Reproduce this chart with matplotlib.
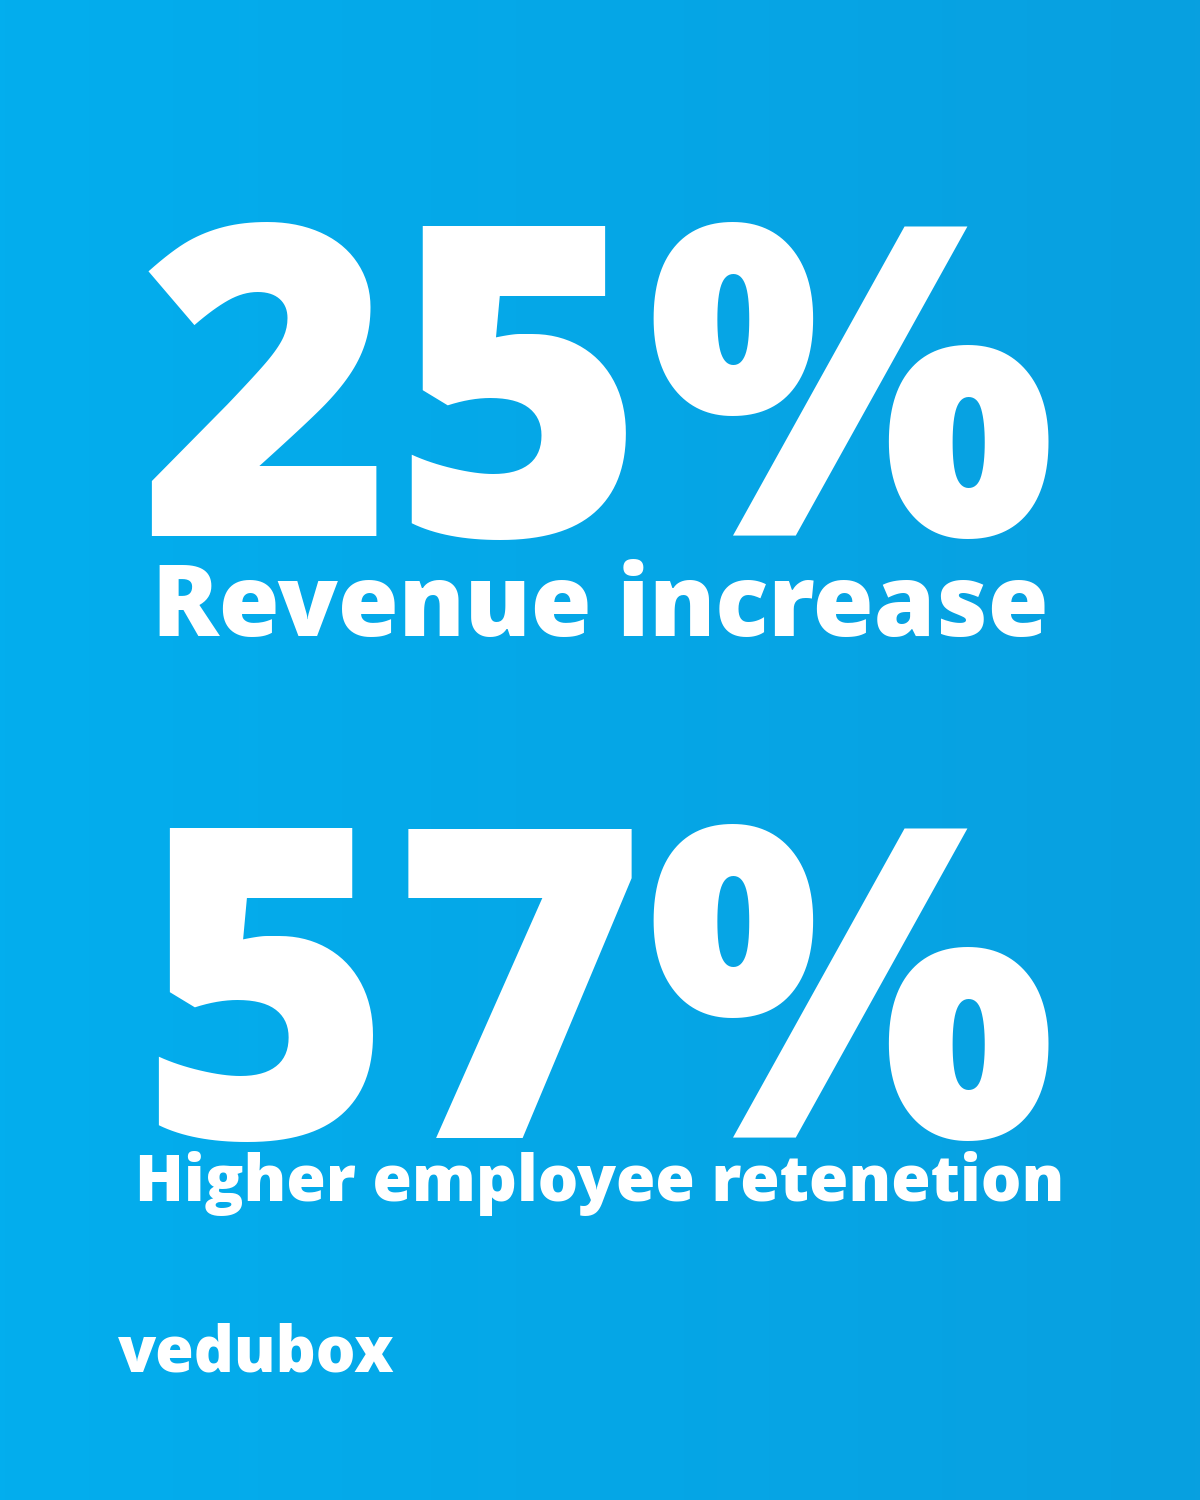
import matplotlib
matplotlib.use("Agg")
import matplotlib.pyplot as plt
import numpy as np
from matplotlib.colors import LinearSegmentedColormap

values = [25, 57]
labels = ["Revenue increase", "Higher employee retenetion"]
brand = "vedubox"

fig = plt.figure(figsize=(12, 15), dpi=100)
ax = fig.add_axes([0, 0, 1, 1])
ax.set_xlim(0, 1200); ax.set_ylim(1500, 0); ax.axis("off")
grad = np.linspace(0, 1, 256)[None, :]
cmap = LinearSegmentedColormap.from_list("bg", ["#03AEEE", "#08A0E0"])
ax.imshow(grad, extent=[0, 1200, 1500, 0], cmap=cmap, aspect="auto", zorder=0)

fam = ["Open Sans", "DejaVu Sans"]
num_y = [424, 1025]
lab_y = [610, 1183]
lab_size = [71, 46]
for v, l, ny, ly, ls in zip(values, labels, num_y, lab_y, lab_size):
    ax.text(598, ny, f"{v}%", ha="center", va="center", color="white",
            fontsize=312, fontweight=800, family=fam)
    ax.text(600, ly, l, ha="center", va="center", color="white",
            fontsize=ls, fontweight=800, family=fam)
ax.text(118, 1355, brand, ha="left", va="center", color="white",
        fontsize=45, fontweight=800, family=fam)
fig.savefig("out.png", dpi=100)
